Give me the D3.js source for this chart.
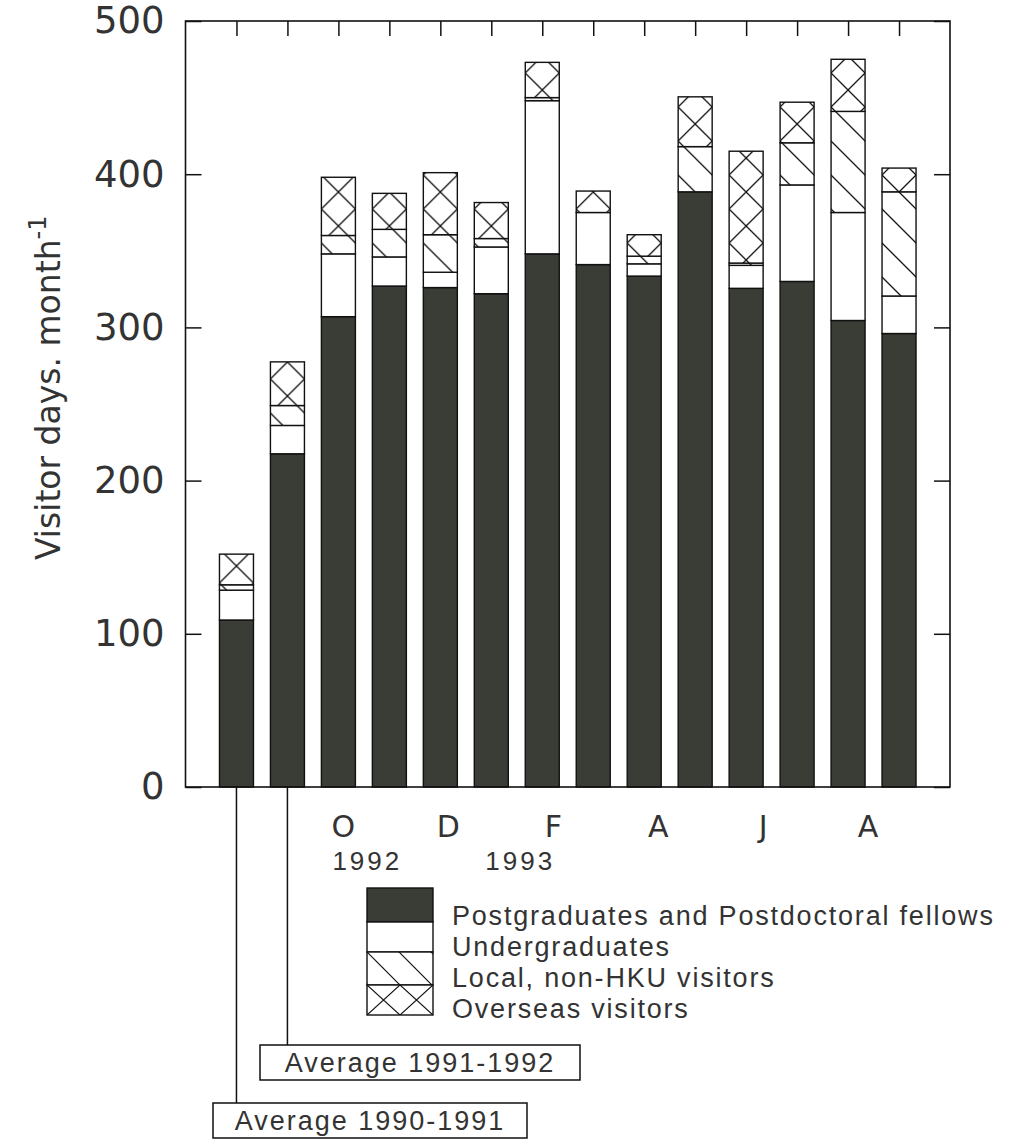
<!DOCTYPE html>
<html>
<head>
<meta charset="utf-8">
<script src="https://cdn.jsdelivr.net/npm/d3@7"></script>
<style>
  body { margin: 0; background: #fff; }
  svg { display: block; }
</style>
</head>
<body>
<div id="chart"></div>
<script>
// Bars: two yearly averages, then Oct 1992 .. Sep 1993
const categories = ["Avg 1990-1991", "Avg 1991-1992", "Oct", "Nov", "Dec", "Jan", "Feb", "Mar", "Apr", "May", "Jun", "Jul", "Aug", "Sep"];

// Visitor days per month, by group
const postgrads  = [109, 217.5, 307, 327, 326, 322, 348, 341, 333.5, 388.5, 325.5, 330, 304.5, 296];
const undergrads = [19.5, 18.5, 41, 19, 10, 30.5, 100, 34, 8, 0, 15, 63, 70.5, 24.5];
const localVis   = [3.5, 13, 12, 18, 24.5, 5.5, 2, 0, 5, 29.5, 1.5, 27.5, 66, 68];
const overseas   = [20, 28.5, 38, 23.5, 40.5, 23.5, 23, 14, 14, 32.5, 73, 26.5, 34, 15.5];

const seriesNames = ["Postgraduates and Postdoctoral fellows", "Undergraduates", "Local, non-HKU visitors", "Overseas visitors"];

// x-axis labels under selected months
const monthTicks  = ["Oct", "Dec", "Feb", "Apr", "Jun", "Aug"];
const monthLabels = ["O", "D", "F", "A", "J", "A"];
const yearLabels  = [{ after: "Oct", text: "1992" }, { after: "Jan", text: "1993" }];
const yTicks = [0, 100, 200, 300, 400, 500];

const width = 1011, height = 1140;
const plotLeft = 185.5, plotRight = 950, plotTop = 21, plotBottom = 787;
const dark = "#393d36";
const barW = 34;

const svg = d3.select("#chart").append("svg")
    .attr("width", width)
    .attr("height", height);

const x = d3.scalePoint().domain(categories).range([plotLeft, plotRight]).padding(1);
const y = d3.scaleLinear().domain([0, 500]).range([plotBottom, plotTop]);

// stack the four groups
const rows = categories.map((c, i) => ({
    cat: c, pg: postgrads[i], ug: undergrads[i], loc: localVis[i], ov: overseas[i]
}));
const keys = ["pg", "ug", "loc", "ov"];
const stacked = d3.stack().keys(keys)(rows);

// one hatch pattern per bar so the lines line up with the bar edges
const defs = svg.append("defs");
const P = barW;
categories.forEach((c, i) => {
    const bx = x(c) - barW / 2;
    const diag = defs.append("pattern")
        .attr("id", "diag" + i)
        .attr("patternUnits", "userSpaceOnUse")
        .attr("x", bx).attr("y", plotBottom)
        .attr("width", P).attr("height", P);
    diag.append("rect").attr("width", P).attr("height", P).attr("fill", "#fff");
    diag.append("path")
        .attr("d", `M0,0L${P},${P}M${-P / 2},${P / 2}L${P / 2},${P * 1.5}M${P / 2},${-P / 2}L${P * 1.5},${P / 2}`)
        .attr("stroke", "#111").attr("stroke-width", 1.3).attr("fill", "none");

    const cross = defs.append("pattern")
        .attr("id", "cross" + i)
        .attr("patternUnits", "userSpaceOnUse")
        .attr("x", bx).attr("y", plotBottom)
        .attr("width", P).attr("height", P);
    cross.append("rect").attr("width", P).attr("height", P).attr("fill", "#fff");
    cross.append("path")
        .attr("d", `M0,0L${P},${P}M${P},0L0,${P}`)
        .attr("stroke", "#111").attr("stroke-width", 1.3).attr("fill", "none");
});

// legend patterns
function legendPatterns() {
    const d = defs.append("pattern").attr("id", "diagL")
        .attr("patternUnits", "userSpaceOnUse").attr("x", 367).attr("y", 952)
        .attr("width", 32).attr("height", 32);
    d.append("rect").attr("width", 32).attr("height", 32).attr("fill", "#fff");
    d.append("path").attr("d", "M0,0L32,32M-16,16L16,48M16,-16L48,16")
        .attr("stroke", "#111").attr("stroke-width", 1.2).attr("fill", "none");
    const c = defs.append("pattern").attr("id", "crossL")
        .attr("patternUnits", "userSpaceOnUse").attr("x", 367).attr("y", 985)
        .attr("width", 33).attr("height", 30);
    c.append("rect").attr("width", 33).attr("height", 30).attr("fill", "#fff");
    c.append("path").attr("d", "M0,0L33,30M33,0L0,30")
        .attr("stroke", "#111").attr("stroke-width", 1.2).attr("fill", "none");
}
legendPatterns();

function fillFor(key, i) {
    if (key === "pg") return dark;
    if (key === "ug") return "#fff";
    if (key === "loc") return `url(#diag${i})`;
    return `url(#cross${i})`;
}

// bars
stacked.forEach(layer => {
    svg.append("g").selectAll("rect")
        .data(layer)
        .join("rect")
        .attr("x", d => x(d.data.cat) - barW / 2)
        .attr("y", d => y(d[1]))
        .attr("width", barW)
        .attr("height", d => y(d[0]) - y(d[1]))
        .attr("fill", (d, i) => fillFor(layer.key, i))
        .attr("stroke", d => (d[1] - d[0]) > 0 ? "#111" : "none")
        .attr("stroke-width", 1.4);
});

// frame
svg.append("rect")
    .attr("x", plotLeft).attr("y", plotTop)
    .attr("width", plotRight - plotLeft).attr("height", plotBottom - plotTop)
    .attr("fill", "none").attr("stroke", "#111").attr("stroke-width", 1.6);

// left axis with inward ticks
const yAxis = svg.append("g")
    .attr("transform", `translate(${plotLeft},0)`)
    .call(d3.axisLeft(y).tickValues(yTicks).tickSizeInner(-16).tickSizeOuter(0).tickPadding(21));
yAxis.select(".domain").remove();
yAxis.selectAll(".tick line").attr("stroke", "#111").attr("stroke-width", 1.5);
yAxis.selectAll(".tick text")
    .attr("font-family", "DejaVu Sans, sans-serif")
    .attr("font-size", 37)
    .attr("fill", "#333");

// right axis, ticks only
const yAxisR = svg.append("g")
    .attr("transform", `translate(${plotRight},0)`)
    .call(d3.axisRight(y).tickValues(yTicks).tickSizeInner(-16).tickSizeOuter(0).tickFormat(""));
yAxisR.select(".domain").remove();
yAxisR.selectAll(".tick line").attr("stroke", "#111").attr("stroke-width", 1.5);

// top axis, ticks at each bar
const xAxisT = svg.append("g")
    .attr("transform", `translate(0,${plotTop})`)
    .call(d3.axisTop(x).tickSizeInner(-15).tickSizeOuter(0).tickFormat(""));
xAxisT.select(".domain").remove();
xAxisT.selectAll(".tick line").attr("stroke", "#111").attr("stroke-width", 1.5);

// y title
svg.append("text")
    .attr("transform", "translate(60,560) rotate(-90)")
    .attr("font-family", "DejaVu Sans, sans-serif")
    .attr("font-size", 33)
    .attr("fill", "#333")
    .text("Visitor days. month")
    .append("tspan")
    .attr("dy", -14)
    .attr("font-size", 24)
    .text("-1");

// month labels
svg.append("g").selectAll("text")
    .data(monthTicks)
    .join("text")
    .attr("x", (d, i) => x(d) + 5 + i * 3)
    .attr("y", 837)
    .attr("text-anchor", "middle")
    .attr("font-family", "DejaVu Sans, sans-serif")
    .attr("font-size", 30)
    .attr("fill", "#333")
    .text((d, i) => monthLabels[i]);

// year labels
svg.append("g").selectAll("text")
    .data(yearLabels)
    .join("text")
    .attr("x", d => x(d.after) - 6)
    .attr("y", 870)
    .attr("font-family", "Liberation Sans, Arial, sans-serif")
    .attr("font-size", 26)
    .attr("letter-spacing", 3)
    .attr("fill", "#333")
    .text(d => d.text);

// legend
const legendFills = [dark, "#fff", "url(#diagL)", "url(#crossL)"];
const legendY = [888, 922, 952, 985];
const legendH = [34, 30, 33, 30];
const lg = svg.append("g");
seriesNames.forEach((name, i) => {
    lg.append("rect")
        .attr("x", 367).attr("y", legendY[i])
        .attr("width", 66).attr("height", legendH[i])
        .attr("fill", legendFills[i])
        .attr("stroke", "#111").attr("stroke-width", 1.4);
    lg.append("text")
        .attr("x", 452).attr("y", 925 + i * 31)
        .attr("font-family", "Liberation Sans, Arial, sans-serif")
        .attr("font-size", 27)
        .attr("letter-spacing", 1.8)
        .attr("fill", "#333")
        .text(name);
});

// annotation boxes for the two averages
const notes = [
    { cat: categories[1], text: "Average 1991-1992", bx: 260, by: 1045, bw: 320 },
    { cat: categories[0], text: "Average 1990-1991", bx: 213, by: 1103, bw: 314 }
];
notes.forEach(n => {
    svg.append("line")
        .attr("x1", x(n.cat)).attr("x2", x(n.cat))
        .attr("y1", plotBottom).attr("y2", n.by)
        .attr("stroke", "#111").attr("stroke-width", 1.5);
    svg.append("rect")
        .attr("x", n.bx).attr("y", n.by)
        .attr("width", n.bw).attr("height", 35)
        .attr("fill", "#fff").attr("stroke", "#111").attr("stroke-width", 1.5);
    svg.append("text")
        .attr("x", n.bx + n.bw / 2).attr("y", n.by + 27)
        .attr("text-anchor", "middle")
        .attr("font-family", "Liberation Sans, Arial, sans-serif")
        .attr("font-size", 27)
        .attr("letter-spacing", 2)
        .attr("fill", "#333")
        .text(n.text);
});
</script>
</body>
</html>
